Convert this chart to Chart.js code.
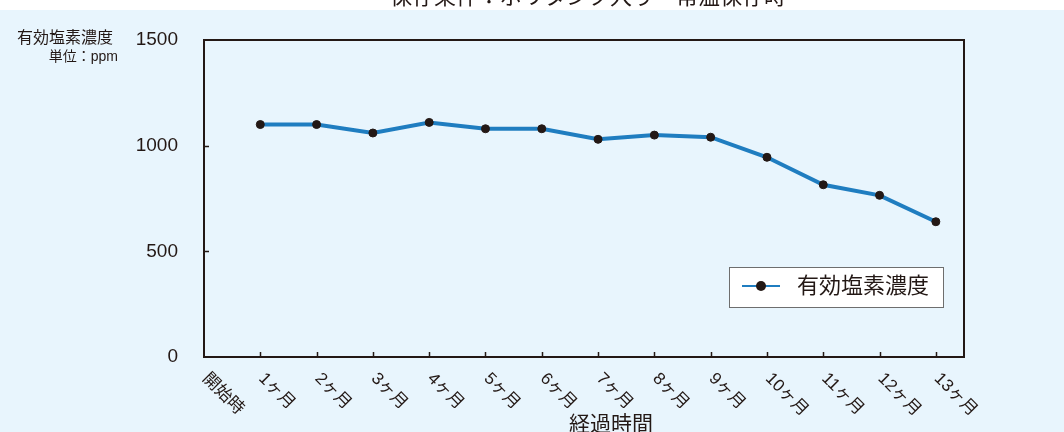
<!DOCTYPE html>
<html>
<head>
<meta charset="utf-8">
<script src="https://cdn.jsdelivr.net/npm/chart.js@4"></script>
<style>
  body { margin: 0; background: #ffffff; }
  canvas { display: block; }
</style>
</head>
<body>
<canvas id="myChart" width="1064" height="432"></canvas>
<script>
const CHART = document.getElementById('myChart');

// data
const categories = ['開始時', '1ヶ月', '2ヶ月', '3ヶ月', '4ヶ月', '5ヶ月', '6ヶ月',
    '7ヶ月', '8ヶ月', '9ヶ月', '10ヶ月', '11ヶ月', '12ヶ月', '13ヶ月'];
const chlorine = [null, 1100, 1100, 1060, 1110, 1080, 1080, 1030, 1050, 1040, 945, 815, 765, 640];
const yTicks = [0, 500, 1000, 1500];

const seriesName = '有効塩素濃度';
const chartTitle = '保存条件：ポリタンク入り・常温保存時';
const yTitle = '有効塩素濃度';
const yUnit = '単位：ppm';
const xTitle = '経過時間';

const INK = '#231815';
const LINE = '#1f7dc0';
const PANEL = '#e8f5fd';
const JP = '"Liberation Sans", "Noto Sans CJK JP", sans-serif';

// background, frame, inner ticks, rotated labels, titles and legend
const decor = {
    id: 'decor',
    beforeDraw: (chart) => {
        const ctx = chart.ctx;
        ctx.save();
        ctx.fillStyle = '#ffffff';
        ctx.fillRect(0, 0, chart.width, chart.height);
        ctx.fillStyle = PANEL;
        ctx.fillRect(0, 10, chart.width, chart.height - 10);
        ctx.restore();
    },
    afterDraw: (chart) => {
        const ctx = chart.ctx;
        const area = chart.chartArea;
        const x = chart.scales.x;
        const y = chart.scales.y;
        ctx.save();

        // frame
        ctx.strokeStyle = INK;
        ctx.lineWidth = 2;
        ctx.strokeRect(area.left, area.top, area.right - area.left, area.bottom - area.top);

        // inner tick marks
        ctx.lineWidth = 1.5;
        ctx.beginPath();
        categories.forEach((c, i) => {
            if (i === 0) return;
            const px = Math.round(x.getPixelForValue(i)) + 0.5;
            ctx.moveTo(px, area.bottom);
            ctx.lineTo(px, area.bottom - 5);
        });
        yTicks.forEach((t) => {
            if (t === 0 || t === 1500) return;
            const py = Math.round(y.getPixelForValue(t)) + 0.5;
            ctx.moveTo(area.left, py);
            ctx.lineTo(area.left + 5, py);
        });
        ctx.stroke();

        // x labels, rotated clockwise
        ctx.fillStyle = INK;
        ctx.font = '17px ' + JP;
        ctx.textAlign = 'left';
        ctx.textBaseline = 'middle';
        categories.forEach((c, i) => {
            const px = x.getPixelForValue(i);
            ctx.save();
            ctx.translate(px + 1, area.bottom + 19);
            ctx.rotate(Math.PI / 4);
            ctx.fillText(c, 0, 0);
            ctx.restore();
        });

        // axis titles
        ctx.textBaseline = 'top';
        ctx.textAlign = 'center';
        ctx.font = '21px ' + JP;
        ctx.fillText(xTitle, 611, 415);

        ctx.textAlign = 'right';
        ctx.font = '16px ' + JP;
        ctx.fillText(yTitle, 113, 31);
        ctx.font = '14px ' + JP;
        ctx.fillText(yUnit, 118, 50);

        // chart title, cut off at the top edge
        ctx.textAlign = 'center';
        ctx.textBaseline = 'alphabetic';
        ctx.font = '22px ' + JP;
        ctx.fillText(chartTitle, 588, 4);

        // legend box
        ctx.fillStyle = '#ffffff';
        ctx.fillRect(729, 267, 214, 40);
        ctx.strokeStyle = '#6e6e6e';
        ctx.lineWidth = 1;
        ctx.strokeRect(729.5, 267.5, 214, 40);
        ctx.strokeStyle = LINE;
        ctx.lineWidth = 2;
        ctx.beginPath();
        ctx.moveTo(742, 286);
        ctx.lineTo(780, 286);
        ctx.stroke();
        ctx.fillStyle = INK;
        ctx.beginPath();
        ctx.arc(761, 286, 5, 0, Math.PI * 2);
        ctx.fill();
        ctx.textAlign = 'left';
        ctx.textBaseline = 'middle';
        ctx.font = '22px ' + JP;
        ctx.fillText(seriesName, 797, 287);

        ctx.restore();
    }
};

const lineChart = new Chart(CHART, {
    type: 'line',
    data: {
        datasets: [
            {
                label: seriesName,
                data: chlorine.map((v, i) => ({ x: i, y: v })),
                borderColor: LINE,
                borderWidth: 4,
                pointBackgroundColor: INK,
                pointBorderColor: INK,
                pointRadius: 4,
                pointBorderWidth: 1,
                tension: 0,
                spanGaps: false
            }
        ]
    },
    options: {
        responsive: false,
        animation: false,
        devicePixelRatio: 1,
        layout: { padding: { top: 40, bottom: 75, left: 0, right: 100 } },
        plugins: {
            legend: { display: false },
            tooltip: { enabled: false },
            title: { display: false }
        },
        scales: {
            x: {
                type: 'linear',
                min: 0,
                max: 13.5,
                grid: { display: false, drawTicks: false },
                border: { display: false },
                ticks: { display: false },
                afterFit: (scale) => { scale.height = 0; }
            },
            y: {
                min: 0,
                max: 1500,
                grid: { display: false, drawTicks: false },
                border: { display: false },
                afterBuildTicks: (scale) => {
                    scale.ticks = yTicks.map((v) => ({ value: v }));
                },
                ticks: {
                    padding: 26,
                    color: INK,
                    font: { size: 19, family: JP },
                    callback: (v) => String(v)
                },
                afterFit: (scale) => { scale.width = 204; }
            }
        }
    },
    plugins: [decor]
});
</script>
</body>
</html>
